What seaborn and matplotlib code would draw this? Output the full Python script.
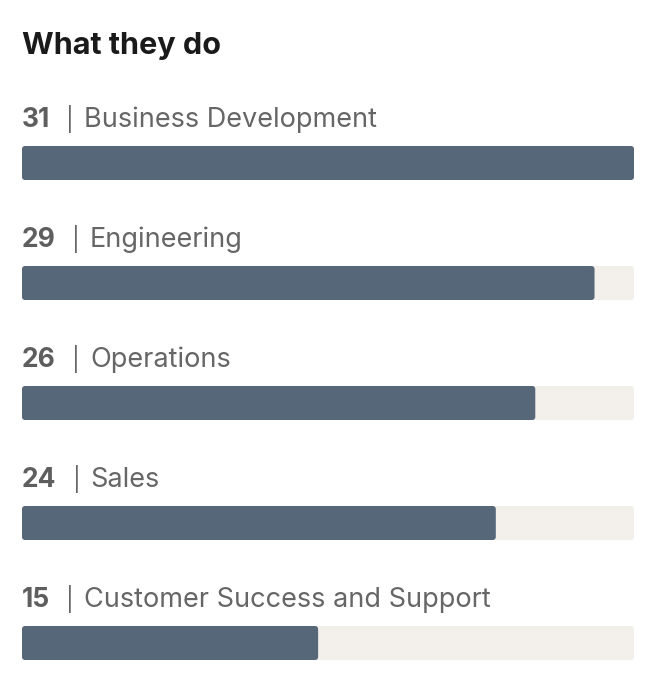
import matplotlib
matplotlib.use("Agg")
import matplotlib.pyplot as plt
from matplotlib.patches import FancyBboxPatch
import pandas as pd
import seaborn as sns

# what they do - count per function
roles = ['Business Development', 'Engineering', 'Operations', 'Sales',
         'Customer Success and Support']
counts = [31, 29, 26, 24, 15]

df = pd.DataFrame({'role': roles, 'count': counts})
df['track'] = max(counts)

sns.set_style('white')
plt.rcParams['font.family'] = ['Inter', 'DejaVu Sans']

W, H = 658, 684
fig = plt.figure(figsize=(W / 100, H / 100), dpi=100)
fig.patch.set_facecolor('white')

# axes placed in pixel terms: bars from x=22 to 634, rows 120px apart
left, right = 22, 634
top = 103
ax = fig.add_axes([left / W, 0, (right - left) / W, (H - top) / H])

sns.barplot(data=df, x='track', y='role', color='#f3f0eb', width=34 / 120,
            ax=ax, saturation=1)
sns.barplot(data=df, x='count', y='role', color='#56677a', width=34 / 120,
            ax=ax, saturation=1)

ax.set_xlim(0, max(counts))
ax.set_ylim(-0.5 + (H - top) / 120, -0.5)
ax.axis('off')

# swap rectangles for rounded ones
px_x = max(counts) / (right - left)
px_y = 1 / 120
for p in list(ax.patches):
    x, y, w, h = p.get_x(), p.get_y(), p.get_width(), p.get_height()
    fb = FancyBboxPatch((x, y), w, h,
                        boxstyle=f"round,pad=0,rounding_size={3 * px_x}",
                        mutation_aspect=px_y / px_x,
                        facecolor=p.get_facecolor(), edgecolor='none',
                        zorder=p.get_zorder())
    p.remove()
    ax.add_patch(fb)

fig.text(left / W, 1 - 54 / H, 'What they do', fontsize=22,
         fontweight='bold', color='#1a1a1a', ha='left', va='baseline')

fig.canvas.draw()
renderer = fig.canvas.get_renderer()
for i, (role, n) in enumerate(zip(roles, counts)):
    yb = 1 - (127 + 120 * i) / H
    t = fig.text(left / W, yb, str(n), fontsize=19, fontweight='bold',
                 color='#5e5e5e', ha='left', va='baseline')
    bb = t.get_window_extent(renderer)
    fig.text((bb.x1 + 20) / W, yb, '|', fontsize=17,
             color='#666666', ha='center', va='baseline')
    fig.text((bb.x1 + 34) / W, yb, role, fontsize=19.5,
             color='#666666', ha='left', va='baseline')

fig.savefig('out.png', dpi=100, facecolor='white')
